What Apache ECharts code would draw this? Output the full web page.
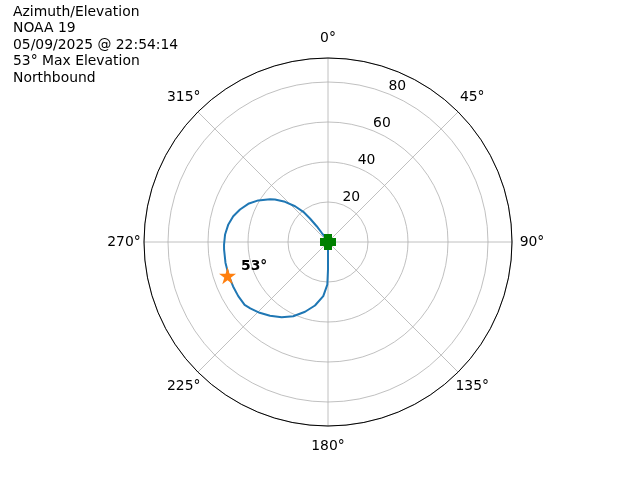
<!DOCTYPE html>
<html><head><meta charset="utf-8">
<script src="https://cdn.jsdelivr.net/npm/echarts@6/dist/echarts.min.js"></script>
<style>html,body{margin:0;padding:0;background:#fff}#c{width:640px;height:480px}</style>
</head><body><div id="c"></div>
<script>
// Pass track: elevation (plotted as radius) and azimuth in degrees
const trackRadius  = [0, 2.4, 5.6, 9.7, 14.8, 19.5, 24.3, 29.4, 34.0, 36.0, 40.6, 44.2, 46.9, 49.1, 50.6, 51.6, 52.0, 52.1, 52.3, 52.4, 52.4, 52.4, 52.2, 51.1, 49.2, 46.9, 44.2, 41.0, 36.7, 32.4, 27.2, 21.3, 13.75, 6.75, 0];
const trackAzimuth = [0, 331.3, 325.6, 324.4, 322.5, 320.7, 317.3, 313.1, 308.7, 306.4, 300.8, 295.6, 290.3, 285.2, 280.0, 274.2, 268.6, 265.9, 258.6, 251.4, 244.9, 238.9, 233.0, 229.5, 224.0, 218.2, 211.6, 205.1, 198.2, 191.6, 185.0, 180.9, 180, 180, 0];
const maxPoint = [53, 251.4];
const maxLabel = '53°';
const startPoint = [0, 0];
const angleTicks = [0, 45, 90, 135, 180, 225, 270, 315];
const radialTicks = [20, 40, 60, 80];
const radialLabelAngle = 22.5;
const titleLines = ['Azimuth/Elevation', 'NOAA 19', '05/09/2025 @ 22:54:14', '53° Max Elevation', 'Northbound'];

const FONT = 'DejaVu Sans';
const FS = 13.9;
const trackData = trackRadius.map((r, i) => [r, trackAzimuth[i]]);
const starPath = 'path://M50,0 L61.8,35.4 L100,35.4 L69.1,57.3 L80.9,93.3 L50,71.4 L19.1,93.3 L30.9,57.3 L0,35.4 L38.2,35.4 Z';
const plusPath = 'path://M25,0 L75,0 L75,25 L100,25 L100,75 L75,75 L75,100 L25,100 L25,75 L0,75 L0,25 L25,25 Z';

const chart = echarts.init(document.getElementById('c'));
chart.setOption({
  animation: false,
  title: {
    text: titleLines.join('\n'), left: 13, top: 4, padding: 0,
    textStyle: { fontFamily: FONT, fontSize: FS, fontWeight: 'normal', color: '#000', lineHeight: 16.5 }
  },
  polar: [
    { center: [328, 242], radius: 184 },
    { center: [328, 242], radius: 204 }
  ],
  angleAxis: [
    {
      polarIndex: 0, type: 'value', min: 0, max: 360, interval: 45, startAngle: 90, clockwise: true,
      axisLine: { show: true, lineStyle: { color: '#000', width: 1 } },
      axisTick: { show: false },
      axisLabel: { show: false },
      splitLine: { show: true, lineStyle: { color: '#b0b0b0', width: 0.8 } }
    },
    {
      polarIndex: 1, type: 'value', min: 0, max: 360, startAngle: 90, clockwise: true, show: false
    }
  ],
  radiusAxis: [
    {
      polarIndex: 0, type: 'value', min: 0, max: 92, interval: 20,
      axisLine: { show: false }, axisTick: { show: false }, axisLabel: { show: false },
      splitLine: { show: true, lineStyle: { color: '#b0b0b0', width: 0.8 } }
    },
    {
      polarIndex: 1, type: 'value', min: 0, max: 1, show: false
    }
  ],
  series: [
    {
      type: 'line', coordinateSystem: 'polar', polarIndex: 0, data: trackData,
      smooth: false, showSymbol: false, lineStyle: { color: '#1f77b4', width: 2, join: 'round', cap: 'round' }, z: 2
    },
    {
      type: 'scatter', coordinateSystem: 'polar', polarIndex: 0, data: [maxPoint],
      symbol: starPath, symbolSize: 17, itemStyle: { color: '#ff7f0e', opacity: 1 }, z: 3,
      label: { show: true, formatter: maxLabel, position: 'right', distance: 5, offset: [0, -9],
        fontFamily: FONT, fontSize: FS, fontWeight: 'bold', color: '#000' }
    },
    {
      type: 'scatter', coordinateSystem: 'polar', polarIndex: 0, data: [startPoint],
      symbol: plusPath, symbolSize: 16, itemStyle: { color: '#008000', opacity: 1 }, z: 4
    },
    {
      type: 'scatter', coordinateSystem: 'polar', polarIndex: 0, silent: true,
      data: radialTicks.map(v => [v, radialLabelAngle]),
      symbolSize: 1, itemStyle: { color: 'transparent', opacity: 1 }, z: 5,
      label: { show: true, position: 'inside', offset: [8, -8], formatter: p => String(p.value[0]),
        fontFamily: FONT, fontSize: FS, color: '#000', opacity: 1 }
    },
    {
      type: 'scatter', coordinateSystem: 'polar', polarIndex: 1, silent: true,
      data: angleTicks.map(a => [1, a]),
      symbolSize: 1, itemStyle: { color: 'transparent', opacity: 1 }, z: 5,
      label: { show: true, position: 'inside', formatter: p => p.value[1] + '°',
        fontFamily: FONT, fontSize: FS, color: '#000', opacity: 1 }
    }
  ]
});
</script></body></html>
